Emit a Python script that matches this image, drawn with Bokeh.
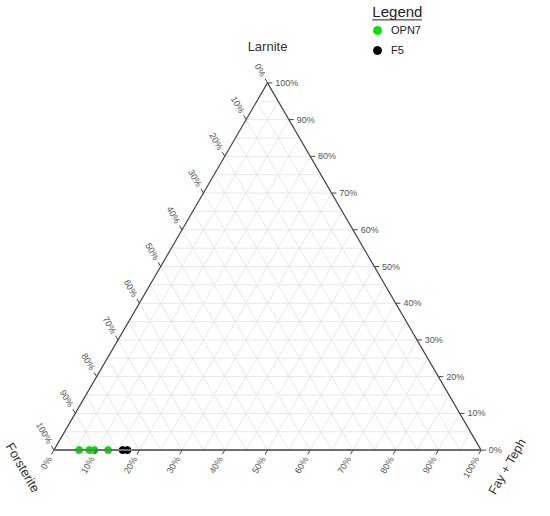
import math
from bokeh.plotting import figure
from bokeh.models import Range1d, Legend, LegendItem
from bokeh.core.properties import value
from bokeh.embed import file_html
from bokeh.resources import INLINE

# ---- data (percent) ----
axis_titles = ["Larnite", "Forsterite", "Fay + Teph"]
tick_values = [0, 10, 20, 30, 40, 50, 60, 70, 80, 90, 100]
tick_labels = [f"{v}%" for v in tick_values]
grid_values = [5 * k for k in range(1, 20)]

series_names = ["OPN7", "F5"]
opn7_larnite = [0, 0, 0, 0]
opn7_forsterite = [94.1, 91.7, 90.5, 87.3]
opn7_fayteph = [5.9, 8.3, 9.5, 12.7]
f5_larnite = [0, 0]
f5_forsterite = [83.9, 82.8]
f5_fayteph = [16.1, 17.2]
series_colors = ["#00e600", "#000000"]

S3 = math.sqrt(3) / 2
# layout frame: triangle in a 550x516 reference frame
X0, Y0, WX, HY = 55.0, 464.0, 440.0, 437.6


def d(px, py):
    """reference-frame pixel -> data coords"""
    return (px - X0) / WX, (Y0 - py) / HY


def tpx(a, c):
    """ternary fractions -> reference-frame pixel"""
    x = c + a / 2
    y = a * S3
    return X0 + WX * x, Y0 - HY * y


def tern(a, b, c):
    xs, ys = [], []
    for ai, bi, ci in zip(a, b, c):
        t = ai + bi + ci
        ai, ci = ai / t, ci / t
        xs.append(ci + ai / 2)
        ys.append(ai * S3)
    return xs, ys


W, H = 534, 500
p = figure(width=W, height=H, output_backend="svg", toolbar_location=None,
           x_range=Range1d(d(0, 0)[0], d(550, 0)[0]),
           y_range=Range1d(d(0, 516)[1], d(0, 0)[1]),
           min_border=0, outline_line_color=None)
p.axis.visible = False
p.grid.visible = False

# ---- grid lines ----
gx, gy = [], []
for g in grid_values:
    f = g / 100
    gx.append([f / 2, 1 - f / 2]); gy.append([f * S3, f * S3])
    gx.append([f, f + (1 - f) / 2]); gy.append([0, (1 - f) * S3])
    gx.append([1 - f, (1 - f) / 2]); gy.append([0, (1 - f) * S3])
p.multi_line(gx, gy, line_color="#e8e8e8", line_width=1)

# ---- series ----
renderers = []
for name, col, (a, b, c) in zip(series_names, series_colors,
                                [(opn7_larnite, opn7_forsterite, opn7_fayteph),
                                 (f5_larnite, f5_forsterite, f5_fayteph)]):
    xs, ys = tern(a, b, c)
    r = p.scatter(xs, ys, size=7, fill_color=col, line_color=col)
    renderers.append(r)

# ---- triangle edges ----
p.line([0, 0.5], [0, S3], line_color="#444444", line_width=1.2)
p.line([1, 0.5], [0, S3], line_color="#444444", line_width=1.2)
p.line([0, 1], [0, 0], line_color="#707070", line_width=2)

# ---- ticks and labels ----
tfont = value("Liberation Sans")
TL, LO = 5.0, 8.5


def axis_ticks(points, direction, lab_off):
    x0, y0, x1, y1, lx, ly = [], [], [], [], [], []
    ux, uy = direction
    for (px, py) in points:
        a = d(px, py); b = d(px + ux * TL, py + uy * TL); c = d(px + ux * lab_off, py + uy * lab_off)
        x0.append(a[0]); y0.append(a[1]); x1.append(b[0]); y1.append(b[1])
        lx.append(c[0]); ly.append(c[1])
    p.segment(x0, y0, x1, y1, line_color="#444444", line_width=1)
    return lx, ly


# bottom axis: Fay+Teph
pts = [tpx(0, v / 100) for v in tick_values]
lx, ly = axis_ticks(pts, (-0.5, S3), LO)
p.text(lx, ly, text=tick_labels, angle=math.pi / 3, text_align="right",
       text_baseline="middle", text_font=tfont, text_font_size="9px", text_color="#555555")

# left axis: Forsterite
pts = [tpx(1 - v / 100, 0) for v in tick_values]
lx, ly = axis_ticks(pts, (-0.5, -S3), LO)
p.text(lx, ly, text=tick_labels, angle=-math.pi / 3, text_align="right",
       text_baseline="middle", text_font=tfont, text_font_size="9px", text_color="#555555")

# right axis: Larnite
pts = [tpx(v / 100, 1 - v / 100) for v in tick_values]
lx, ly = axis_ticks(pts, (1, 0), 8.0)
p.text(lx, ly, text=tick_labels, angle=0, text_align="left",
       text_baseline="middle", text_font=tfont, text_font_size="9px", text_color="#555555")

# ---- axis titles ----
tx, ty = d(275, 47)
p.text([tx], [ty], text=[axis_titles[0]], text_align="center", text_baseline="middle",
       text_font=tfont, text_font_size="13px", text_color="#333333")
tx, ty = d(23, 482)
p.text([tx], [ty], text=[axis_titles[1]], angle=-math.pi / 3, text_align="center",
       text_baseline="middle", text_font=tfont, text_font_size="13px", text_color="#333333")
tx, ty = d(522, 481)
p.text([tx], [ty], text=[axis_titles[2]], angle=math.pi / 3, text_align="center",
       text_baseline="middle", text_font=tfont, text_font_size="12.5px", text_color="#333333")

# ---- legend ----
tx, ty = d(383, 11)
p.text([tx], [ty], text=["Legend"], text_align="left", text_baseline="middle",
       text_font=tfont, text_font_size="15px", text_color="#222222")
ux0, uy0 = d(383, 20)
ux1, _ = d(434, 20)
p.line([ux0, ux1], [uy0, uy0], line_color="#222222", line_width=1)
legend = Legend(items=[LegendItem(label=n, renderers=[r]) for n, r in zip(series_names, renderers)],
                location=(367, 440), orientation="vertical",
                background_fill_alpha=0, border_line_color=None,
                label_text_font="Liberation Sans", label_text_font_size="11px",
                label_text_color="#222222", glyph_width=20, glyph_height=20,
                label_height=20, spacing=-2, padding=0, margin=0, label_standoff=4)
p.add_layout(legend)

open("out.html", "w").write(file_html(p, INLINE))
